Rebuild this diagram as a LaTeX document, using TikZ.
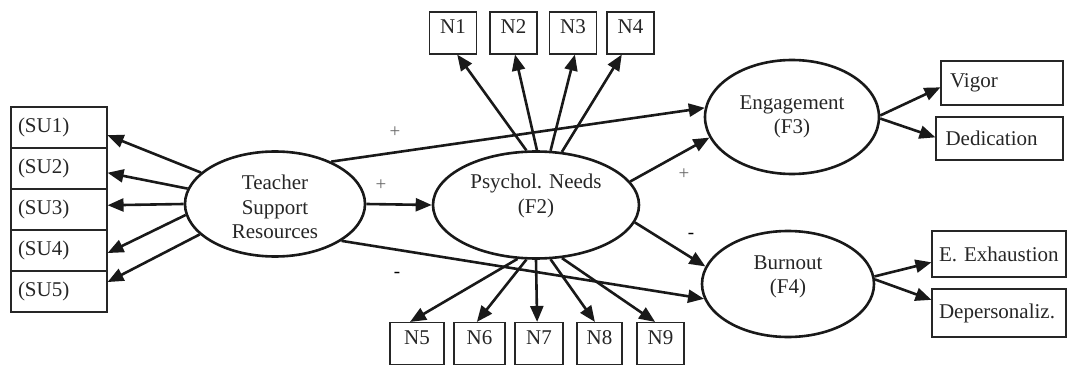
\documentclass[tikz,border=0pt]{standalone}
\usepackage{fontspec}
\setmainfont{Liberation Serif}
\usetikzlibrary{arrows.meta,shapes.geometric}

\begin{document}
\begin{tikzpicture}[x=1pt,y=-1pt,
    every node/.style={font=\fontsize{21}{24.5}\selectfont, text=black!85},
    box/.style={draw=black!85, line width=1.1pt, inner sep=0pt},
    subox/.style={box, minimum width=96pt, minimum height=41pt, text width=82pt, align=left},
    nbox/.style={box, minimum width=47pt, minimum height=42pt, text depth=12pt},
    factor/.style={draw=black!90, ellipse, line width=2.6pt, inner sep=0pt},
    arr/.style={-{Triangle[length=16pt,width=13pt]}, line width=2.6pt, black!90},
    sign/.style={font=\fontsize{19}{19}\selectfont, text=black!60}]
  \useasboundingbox (0,0) rectangle (1067,366);

  \node[subox] (su1) at (59,127.5) {(SU1)};
  \node[subox] (su2) at (59,168.5) {(SU2)};
  \node[subox] (su3) at (59,209.5) {(SU3)};
  \node[subox] (su4) at (59,250.5) {(SU4)};
  \node[subox] (su5) at (59,291.5) {(SU5)};

  \node[factor, minimum width=180pt, minimum height=105pt,
        label={[align=center, yshift=-3pt]center:Teacher\\Support\\Resources}] (tsr) at (275,204) {};
  \node[factor, minimum width=206pt, minimum height=107pt,
        label={[align=center, yshift=9pt]center:Psychol. Needs\\(F2)}] (pn) at (536,205) {};
  \node[factor, minimum width=174pt, minimum height=114pt,
        label={[align=center]center:Engagement\\(F3)}] (f3) at (792,117) {};
  \node[factor, minimum width=172pt, minimum height=106pt,
        label={[align=center, yshift=7pt]center:Burnout\\(F4)}] (f4) at (788,284) {};

  \node[nbox] (n1) at (453,33) {N1};
  \node[nbox] (n2) at (513.5,33) {N2};
  \node[nbox] (n3) at (573,33) {N3};
  \node[nbox] (n4) at (630.5,33) {N4};
  \node[nbox, minimum width=54pt] (n5) at (417,343.5) {N5};
  \node[nbox, minimum width=51pt] (n6) at (479.5,343.5) {N6};
  \node[nbox, minimum width=48pt] (n7) at (539,343.5) {N7};
  \node[nbox, minimum width=45pt] (n8) at (599.5,343.5) {N8};
  \node[nbox, minimum width=47pt] (n9) at (660.5,343.5) {N9};

  \node[box, minimum width=122pt, minimum height=44pt, text width=104pt, align=left] (vig) at (1002,83) {Vigor};
  \node[box, minimum width=127pt, minimum height=43pt, text width=108pt, align=left] (ded) at (999.5,138.5) {Dedication};
  \node[box, minimum width=134pt, minimum height=46pt, text width=120pt, align=left] (exh) at (999,254) {E. Exhaustion};
  \node[box, minimum width=134pt, minimum height=48pt, text width=120pt, align=left] (dep) at (999,313) {Depersonaliz.};

  \draw[arr] (tsr.157) -- (su1.-9);
  \draw[arr] (tsr.170) -- (su2.-5);
  \draw[arr] (tsr.180) -- (su3.5);
  \draw[arr] (tsr.187) -- (su4.-3);
  \draw[arr] (tsr.202) -- (su5.11);

  \draw[arr] (tsr.east) -- (pn.west);
  \draw[arr] (tsr.37) -- (f3.174);
  \draw[arr] (tsr.331) -- (f4.190);
  \draw[arr] (pn.14) -- (f3.194);
  \draw[arr] (pn.350) -- (f4.168);

  \draw[arr] (pn.100) -- (n1.-79);
  \draw[arr] (pn.89) -- (n2.-86);
  \draw[arr] (pn.75) -- (n3.-85);
  \draw[arr] (pn.64) -- (n4.-112);
  \draw[arr] (pn.251) -- (n5.108);
  \draw[arr] (pn.260) -- (n6.97);
  \draw[arr] (pn.270) -- (n7.95);
  \draw[arr] (pn.285) -- (n8.102);
  \draw[arr] (pn.296) -- (n9.104);

  \draw[arr] (f3.1) -- (vig.184);
  \draw[arr] (f3.-1) -- (ded.179);
  \draw[arr] (f4.5) -- (exh.187);
  \draw[arr] (f4.3) -- (dep.169);

  \node[sign] (s1) at (395,132) {+};
  \node[sign] (s2) at (381,185) {+};
  \node[sign] (s3) at (684,174) {+};
  \node[sign, text=black] (s4) at (691,236) {-};
  \node[sign, text=black] (s5) at (397,275) {-};
\end{tikzpicture}
\end{document}
